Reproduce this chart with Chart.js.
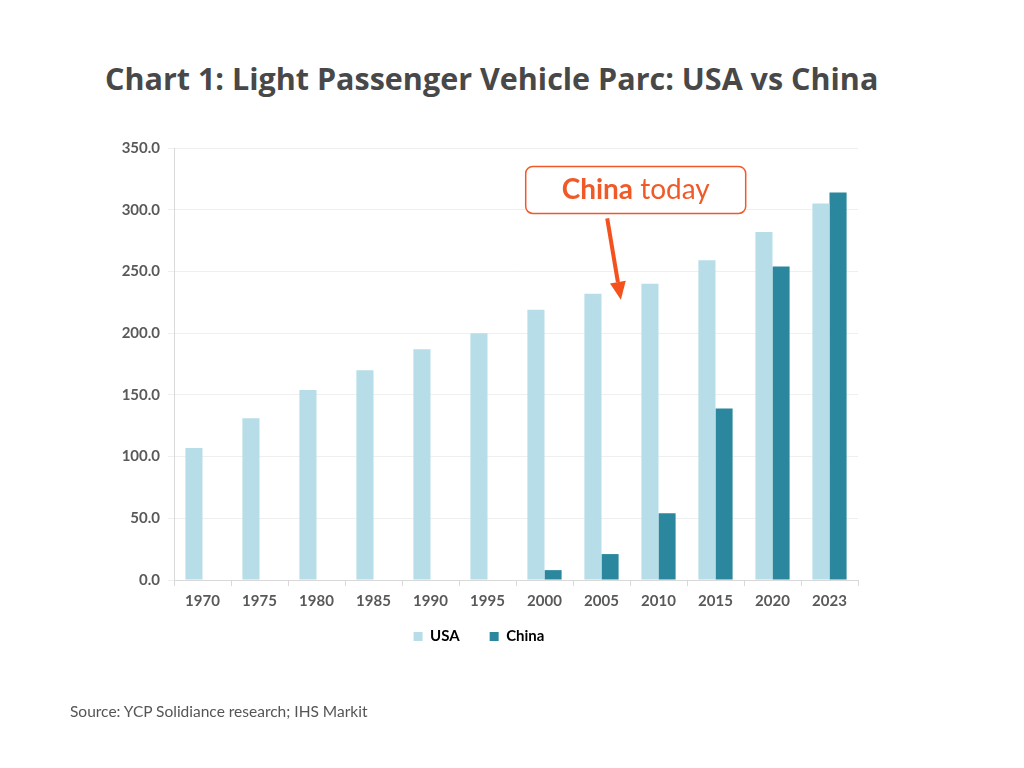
<!DOCTYPE html>
<html>
<head>
<meta charset="utf-8">
<script src="https://cdn.jsdelivr.net/npm/chart.js@4.4.1/dist/chart.umd.min.js"></script>
<style>
  body { margin: 0; background: #fff; }
  #wrap { position: relative; width: 1024px; height: 768px; }
  #title { position: absolute; left: 105px; top: 57px; font: bold 30.5px "Open Sans", sans-serif; color: #484848; white-space: nowrap; }
  #source { position: absolute; left: 70px; top: 702px; font: 15.5px "Lato", sans-serif; color: #555; }
  canvas { position: absolute; left: 0; top: 0; }
</style>
</head>
<body>
<div id="wrap">
  <div id="title">Chart 1: Light Passenger Vehicle Parc: USA vs China</div>
  <canvas id="parc" width="1024" height="768"></canvas>
  <div id="source">Source: YCP Solidiance research; IHS Markit</div>
</div>
<script>
// values (million vehicles)
const years = ['1970', '1975', '1980', '1985', '1990', '1995', '2000', '2005', '2010', '2015', '2020', '2023'];
const usaParc = [107, 131, 154, 170, 187, 200, 219, 232, 240, 259, 282, 305];
const chinaParc = [null, null, null, null, null, null, 8, 21, 54, 139, 254, 314];
const yTicks = [0, 50, 100, 150, 200, 250, 300, 350];

// callout, placed in data units (category index, value)
const callout = { x: 7.6, top: 335, bottom: 297, from: [7.1, 293], to: [7.34, 227] };

const calloutPlugin = {
  id: 'callout',
  afterDatasetsDraw(chart) {
    const ctx = chart.ctx;
    const xs = chart.scales.x, ys = chart.scales.y;
    const orange = '#f05a28';
    const cx = xs.getPixelForValue(callout.x);
    const top = ys.getPixelForValue(callout.top);
    const bot = ys.getPixelForValue(callout.bottom);
    const w = 220;
    ctx.save();
    ctx.beginPath();
    ctx.roundRect(cx - w / 2, top, w, bot - top, 7);
    ctx.fillStyle = '#fff';
    ctx.fill();
    ctx.lineWidth = 1.5;
    ctx.strokeStyle = orange;
    ctx.stroke();

    ctx.fillStyle = orange;
    ctx.textBaseline = 'middle';
    const a = 'China', b = ' today';
    ctx.font = 'bold 28px Lato';
    const wa = ctx.measureText(a).width;
    ctx.font = '28px Lato';
    const wb = ctx.measureText(b).width;
    const tx = cx - (wa + wb) / 2;
    const ty = (top + bot) / 2;
    ctx.font = 'bold 28px Lato';
    ctx.fillText(a, tx, ty);
    ctx.font = '28px Lato';
    ctx.fillText(b, tx + wa, ty);

    // arrow
    const x1 = xs.getPixelForValue(callout.from[0]), y1 = ys.getPixelForValue(callout.from[1]);
    const x2 = xs.getPixelForValue(callout.to[0]), y2 = ys.getPixelForValue(callout.to[1]);
    const ang = Math.atan2(y2 - y1, x2 - x1);
    const head = 18, half = 8;
    const bx = x2 - head * Math.cos(ang), by = y2 - head * Math.sin(ang);
    ctx.strokeStyle = '#f4511e';
    ctx.fillStyle = '#f4511e';
    ctx.lineWidth = 4;
    ctx.beginPath();
    ctx.moveTo(x1, y1);
    ctx.lineTo(bx, by);
    ctx.stroke();
    ctx.beginPath();
    ctx.moveTo(x2, y2);
    ctx.lineTo(bx + half * Math.sin(ang), by - half * Math.cos(ang));
    ctx.lineTo(bx - half * Math.sin(ang), by + half * Math.cos(ang));
    ctx.closePath();
    ctx.fill();
    ctx.restore();
  }
};

// legend keeps wide gaps between items but sits closer to the axis
const legendNudge = {
  id: 'legendNudge',
  afterLayout(chart) {
    chart.legend.top -= 17;
    chart.legend.bottom -= 17;
  }
};

const tickFont = { family: 'Lato', size: 15, weight: 'bold' };

new Chart(document.getElementById('parc'), {
  type: 'bar',
  data: {
    labels: years,
    datasets: [
      { label: 'USA', data: usaParc, backgroundColor: '#b7dde8' },
      { label: 'China', data: chinaParc, backgroundColor: '#2b879d' }
    ]
  },
  options: {
    responsive: false,
    animation: false,
    devicePixelRatio: 1,
    datasets: { bar: { categoryPercentage: 0.6, barPercentage: 1 } },
    layout: { padding: { left: 100, right: 166, top: 148, bottom: 97 } },
    plugins: {
      legend: {
        position: 'bottom',
        labels: { boxWidth: 9, boxHeight: 9, color: '#000', font: { family: 'Lato', size: 15, weight: 'bold' }, padding: 30 }
      },
      tooltip: { enabled: false }
    },
    scales: {
      x: {
        grid: { drawOnChartArea: false, drawTicks: true, tickLength: 6, color: '#d9d9d9' },
        border: { color: '#d9d9d9' },
        ticks: { color: '#595959', font: tickFont, padding: 6 }
      },
      y: {
        min: 0, max: 350,
        afterFit(s) { s.width = 74; },
        afterBuildTicks(s) { s.ticks = yTicks.map(v => ({ value: v })); },
        grid: { color: '#efefef', tickLength: 6 },
        border: { color: '#d9d9d9' },
        ticks: { color: '#595959', font: tickFont, padding: 8, callback: v => v.toFixed(1) }
      }
    }
  },
  plugins: [calloutPlugin, legendNudge]
});
</script>
</body>
</html>
